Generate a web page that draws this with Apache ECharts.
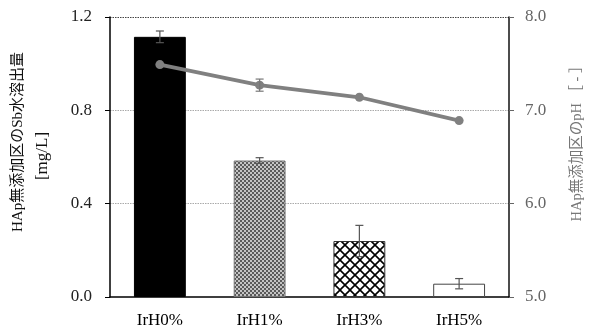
<!DOCTYPE html>
<html><head><meta charset="utf-8">
<script src="https://cdn.jsdelivr.net/npm/echarts@6/dist/echarts.min.js"></script>
<style>html,body{margin:0;padding:0;background:#fff}#c{width:589px;height:334px}</style>
</head><body><div id="c"></div>
<script>
const categories = ['IrH0%', 'IrH1%', 'IrH3%', 'IrH5%'];
const sbValues = [1.115, 0.585, 0.24, 0.057];
const sbErrors = [0.025, 0.012, 0.067, 0.022];
const phValues = [7.49, 7.27, 7.14, 6.89];
const phErrors = [0, 0.065, 0, 0];
const leftTicks = [0.0, 0.4, 0.8, 1.2];
const rightTicks = [5.0, 6.0, 7.0, 8.0];

function makeTile(w, h, draw) {
  const c = document.createElement('canvas'); c.width = w; c.height = h;
  draw(c.getContext('2d')); return c;
}
const checkTile = makeTile(4, 4, g => {
  g.fillStyle = '#c4c4c4'; g.fillRect(0, 0, 4, 4);
  g.fillStyle = '#5a5a5a'; g.fillRect(0, 0, 2, 2); g.fillRect(2, 2, 2, 2);
});
const latticeTile = makeTile(10, 10, g => {
  g.fillStyle = '#fff'; g.fillRect(0, 0, 10, 10);
  g.strokeStyle = '#000'; g.lineWidth = 1.6;
  g.beginPath();
  g.moveTo(-1, -1); g.lineTo(11, 11);
  g.moveTo(11, -1); g.lineTo(-1, 11);
  g.stroke();
});
const barStyles = [
  { color: '#000', borderColor: '#000' },
  { color: { image: checkTile, repeat: 'repeat' }, borderColor: '#777' },
  { color: { image: latticeTile, repeat: 'repeat' }, borderColor: '#333' },
  { color: '#fff', borderColor: '#444' }
];

const font = "'Liberation Serif', 'Noto Sans CJK JP', serif";

function errRender(color) {
  return function (params, api) {
    const x = api.value(0), v = api.value(1), e = api.value(2);
    if (!e) return null;
    const top = api.coord([x, v + e]);
    const bot = api.coord([x, v - e]);
    const cap = 4;
    return {
      type: 'group',
      children: [
        { type: 'line', shape: { x1: top[0], y1: top[1], x2: bot[0], y2: bot[1] }, style: { stroke: color, lineWidth: 1.2 } },
        { type: 'line', shape: { x1: top[0] - cap, y1: top[1], x2: top[0] + cap, y2: top[1] }, style: { stroke: color, lineWidth: 1.2 } },
        { type: 'line', shape: { x1: bot[0] - cap, y1: bot[1], x2: bot[0] + cap, y2: bot[1] }, style: { stroke: color, lineWidth: 1.2 } }
      ]
    };
  };
}

const chart = echarts.init(document.getElementById('c'));
chart.setOption({
  animation: false,
  grid: { left: 110, right: 80, top: 17, bottom: 37, containLabel: false },
  xAxis: {
    type: 'category', data: categories,
    axisLine: { lineStyle: { color: '#000', width: 1.5 } },
    axisTick: { show: false },
    axisLabel: { color: '#000', fontFamily: font, fontSize: 17, margin: 15 }
  },
  yAxis: [
    {
      type: 'value', min: 0, max: 1.2, interval: 0.4,
      axisLine: { show: true, lineStyle: { color: '#000', width: 1.5 } },
      axisTick: { show: true, length: 5, lineStyle: { color: '#000' } },
      axisLabel: { color: '#222', fontFamily: font, fontSize: 17, margin: 18, formatter: v => v.toFixed(1) },
      splitLine: { show: true, lineStyle: { type: [1.5, 1], color: ['#fff', '#aaa', '#aaa', '#444'], width: 1 } }
    },
    {
      type: 'value', min: 5, max: 8, interval: 1, position: 'right',
      axisLine: { show: true, lineStyle: { color: '#111', width: 1.5 } },
      axisTick: { show: true, length: 5, lineStyle: { color: '#666' } },
      axisLabel: { color: '#666', fontFamily: font, fontSize: 17, margin: 16, formatter: v => v.toFixed(1) },
      splitLine: { show: false }
    }
  ],
  series: [
    {
      type: 'bar', yAxisIndex: 0, barWidth: '52%',
      data: sbValues.map((v, i) => ({ value: v, itemStyle: Object.assign({ borderWidth: 1 }, barStyles[i]) }))
    },
    {
      type: 'custom', yAxisIndex: 0, renderItem: errRender('#555'),
      data: sbValues.map((v, i) => [i, v, sbErrors[i]]), z: 5
    },
    {
      type: 'line', yAxisIndex: 1, data: phValues,
      lineStyle: { color: '#808080', width: 3.8 },
      itemStyle: { color: '#808080' },
      symbol: 'circle', symbolSize: 9, z: 6
    },
    {
      type: 'custom', yAxisIndex: 1, renderItem: errRender('#777'),
      data: phValues.map((v, i) => [i, v, phErrors[i]]), z: 7
    }
  ],
  graphic: [
    { type: 'text', x: 18, y: 142, rotation: Math.PI / 2,
      style: { text: 'HAp無添加区のSb水溶出量', font: '15px ' + font, fill: '#111', align: 'center', verticalAlign: 'middle' } },
    { type: 'text', x: 43, y: 156, rotation: Math.PI / 2,
      style: { text: '[mg/L]', font: '17px ' + font, fill: '#111', align: 'center', verticalAlign: 'middle' } },
    { type: 'text', x: 577, y: 140, rotation: Math.PI / 2,
      style: { text: 'HAp無添加区のpH ［ - ］', font: '14.5px ' + font, fill: '#777', align: 'center', verticalAlign: 'middle' } }
  ]
});
</script></body></html>
